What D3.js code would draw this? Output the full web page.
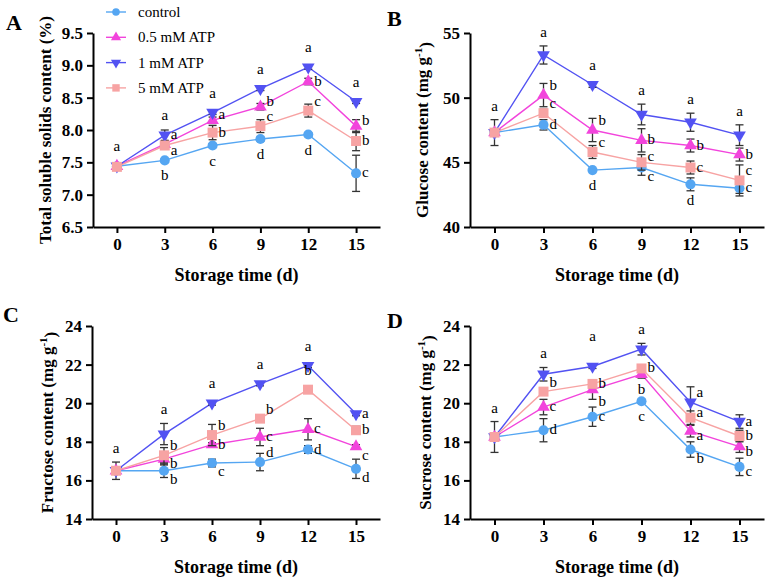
<!DOCTYPE html>
<html>
<head>
<meta charset="utf-8">
<script src="https://cdn.jsdelivr.net/npm/d3@7"></script>
<style>
  body { margin: 0; background: #fff; }
  svg text { font-family: "Liberation Serif", "Times New Roman", serif; }
</style>
</head>
<body>
<div id="chart"></div>
<script>
// storage days and treatments
var days = [0, 3, 6, 9, 12, 15];
var treatments = ["control", "0.5 mM ATP", "1 mM ATP", "5 mM ATP"];
var colors = ["#55a6f2", "#f244dc", "#5252f2", "#f7a3a3"];

// total soluble solids (%)  - order: control, 0.5, 1, 5 mM
var tssMeans = [
    [7.44, 7.53, 7.76, 7.86, 7.93, 7.33],
    [7.44, 7.78, 8.15, 8.36, 8.75, 8.06],
    [7.44, 7.92, 8.27, 8.64, 8.97, 8.44],
    [7.43, 7.76, 7.96, 8.06, 8.30, 7.83]
];
var tssErrors = [
    [0.02, 0.02, 0.03, 0.03, 0.03, 0.28],
    [0.02, 0.05, 0.05, 0.05, 0.05, 0.10],
    [0.02, 0.08, 0.03, 0.03, 0.03, 0.03],
    [0.02, 0.05, 0.11, 0.10, 0.10, 0.15]
];
var tssLetters = [
    ["a", "b", "c", "d", "d", "c"],
    ["", "a", "a", "b", "b", "b"],
    ["", "a", "a", "a", "a", "a"],
    ["", "a", "b", "c", "c", "b"]
];
var tssLetterPos = [
    ["u", "d", "d", "d", "d", "r"],
    ["", "ru", "rh", "rh", "r", "rh"],
    ["", "u", "u", "u", "u", "u"],
    ["", "rs", "r", "ru", "ru", "r"]
];

// glucose (mg g-1)
var gluMeans = [
    [47.3, 47.9, 44.4, 44.6, 43.3, 43.0],
    [47.3, 50.2, 47.5, 46.7, 46.3, 45.6],
    [47.3, 53.3, 51.0, 48.7, 48.1, 47.1],
    [47.3, 48.8, 45.8, 45.0, 44.6, 43.6]
];
var gluErrors = [
    [1.0, 0.4, 0.1, 0.6, 0.5, 0.4],
    [0.1, 0.9, 0.9, 0.9, 0.5, 0.5],
    [0.1, 0.7, 0.2, 0.8, 0.7, 0.8],
    [0.1, 0.3, 0.5, 0.6, 0.5, 1.2]
];
var gluLetters = [
    ["a", "d", "d", "c", "d", "c"],
    ["", "b", "b", "b", "b", "b"],
    ["", "a", "a", "a", "a", "a"],
    ["", "c", "c", "c", "c", "c"]
];
var gluLetterPos = [
    ["u", "r", "d", "rd", "d", "r"],
    ["", "ru", "ru", "r", "r", "r"],
    ["", "u", "u", "u", "u", "u"],
    ["", "ru", "ru", "rh", "r", "ru"]
];

// fructose (mg g-1)
var fruMeans = [
    [16.5, 16.5, 16.9, 16.95, 17.6, 16.6],
    [16.5, 17.1, 17.85, 18.25, 18.65, 17.75],
    [16.5, 18.4, 20.0, 21.0, 21.95, 19.45],
    [16.5, 17.3, 18.35, 19.2, 20.7, 18.6]
];
var fruErrors = [
    [0.45, 0.35, 0.2, 0.45, 0.2, 0.5],
    [0.1, 0.3, 0.1, 0.45, 0.55, 0.1],
    [0.1, 0.55, 0.1, 0.1, 0.1, 0.1],
    [0.1, 0.4, 0.55, 0.1, 0.1, 0.2]
];
var fruLetters = [
    ["a", "b", "c", "d", "d", "d"],
    ["", "b", "b", "c", "c", "c"],
    ["", "a", "a", "a", "a", "a"],
    ["", "b", "b", "b", "b", "b"]
];
var fruLetterPos = [
    ["u", "rd", "rd", "ru", "r", "rd"],
    ["", "rs", "r", "r", "r", "rd"],
    ["", "u", "u", "u", "u", "r"],
    ["", "ru", "ru", "ru", "u", "r"]
];

// sucrose (mg g-1)
var sucMeans = [
    [18.25, 18.6, 19.3, 20.1, 17.6, 16.7],
    [18.25, 19.8, 20.7, 21.5, 18.55, 17.75],
    [18.25, 21.5, 21.9, 22.8, 20.05, 19.05],
    [18.25, 20.6, 21.0, 21.8, 19.25, 18.3]
];
var sucErrors = [
    [0.8, 0.6, 0.5, 0.1, 0.4, 0.45],
    [0.1, 0.4, 0.5, 0.2, 0.3, 0.3],
    [0.1, 0.35, 0.1, 0.3, 0.8, 0.35],
    [0.1, 0.1, 0.2, 0.1, 0.35, 0.3]
];
var sucLetters = [
    ["a", "d", "c", "c", "b", "c"],
    ["", "c", "b", "b", "a", "b"],
    ["", "a", "a", "a", "a", "a"],
    ["", "b", "b", "b", "a", "b"]
];
var sucLetterPos = [
    ["u", "r", "r", "d", "rd", "rs"],
    ["", "r", "rdd", "d", "rs", "rs"],
    ["", "u", "uu", "u", "ru", "r"],
    ["", "ru", "r", "r", "rh", "r"]
];

var tssTicks = [6.5, 7.0, 7.5, 8.0, 8.5, 9.0, 9.5];
var gluTicks = [40, 45, 50, 55];
var sugarTicks = [14, 16, 18, 20, 22, 24];

var width = 767, height = 583;

var svg = d3.select("#chart")
    .append("svg")
    .attr("width", width)
    .attr("height", height);

var panels = [
    {label: "A", means: tssMeans, errs: tssErrors, letters: tssLetters, pos: tssLetterPos,
     ticks: tssTicks, fmt: d3.format(".1f"), title: "Total soluble solids content  (%)", sup: false,
     left: 93, right: 380, top: 33, bottom: 227, titleX: 45, labelX: 6, labelY: 30},
    {label: "B", means: gluMeans, errs: gluErrors, letters: gluLetters, pos: gluLetterPos,
     ticks: gluTicks, fmt: d3.format("d"), title: "Glucose content (mg g", sup: true,
     left: 470, right: 764, top: 33, bottom: 227, titleX: 422, labelX: 387, labelY: 26},
    {label: "C", means: fruMeans, errs: fruErrors, letters: fruLetters, pos: fruLetterPos,
     ticks: sugarTicks, fmt: d3.format("d"), title: "Fructose content (mg g", sup: true,
     left: 92, right: 380, top: 326, bottom: 519, titleX: 47, labelX: 3, labelY: 322},
    {label: "D", means: sucMeans, errs: sucErrors, letters: sucLetters, pos: sucLetterPos,
     ticks: sugarTicks, fmt: d3.format("d"), title: "Sucrose content (mg g", sup: true,
     left: 470, right: 764, top: 326, bottom: 519, titleX: 425, labelX: 387, labelY: 328}
];

var symbols = [
    d3.symbol().type(d3.symbolCircle).size(80),
    d3.symbol().type(d3.symbolTriangle).size(70),
    d3.symbol().type(d3.symbolTriangle).size(70),
    d3.symbol().type(d3.symbolSquare).size(100)
];
var symbolRot = [0, 0, 180, 0];

// baseline shift for letters placed to the right of a point
var rightShift = {r: 4, rh: -1, ru: -5, rs: 9, rd: 13, rdd: 16};

function drawPanel(p) {
    var x = d3.scaleLinear().domain([-1.5, 16.5]).range([p.left, p.right]);
    var y = d3.scaleLinear().domain([p.ticks[0], p.ticks[p.ticks.length - 1]]).range([p.bottom, p.top]);

    var g = svg.append("g");

    // axes
    var xAxis = g.append("g")
        .attr("transform", "translate(0," + p.bottom + ")")
        .call(d3.axisBottom(x).tickValues(days).tickSize(6).tickPadding(5).tickSizeOuter(0));
    var yAxis = g.append("g")
        .attr("transform", "translate(" + p.left + ",0)")
        .call(d3.axisLeft(y).tickValues(p.ticks).tickFormat(p.fmt).tickSize(6).tickPadding(4).tickSizeOuter(0));

    [xAxis, yAxis].forEach(function (a) {
        a.select(".domain").attr("stroke", "#000").attr("stroke-width", 2);
        a.selectAll(".tick line").attr("stroke", "#000").attr("stroke-width", 2);
        a.selectAll(".tick text")
            .attr("fill", "#000")
            .style("font-size", "17px")
            .style("font-weight", "bold")
            .style("font-family", "'Liberation Serif', serif");
    });

    // x title
    g.append("text")
        .attr("x", (p.left + p.right) / 2)
        .attr("y", p.bottom + 54)
        .attr("text-anchor", "middle")
        .style("font-size", "18px")
        .style("font-weight", "bold")
        .text("Storage time (d)");

    // y title
    var yt = g.append("text")
        .attr("transform", "translate(" + p.titleX + "," + ((p.top + p.bottom) / 2) + ") rotate(-90)")
        .attr("text-anchor", "middle")
        .attr("dy", "0.35em")
        .style("font-size", "17px")
        .style("font-weight", "bold");
    yt.append("tspan").text(p.title);
    if (p.sup) {
        yt.append("tspan").attr("dy", "-0.5em").style("font-size", "11px").text("-1");
        yt.append("tspan").attr("dy", "0.5em").text(")");
    }

    // panel letter
    g.append("text")
        .attr("x", p.labelX)
        .attr("y", p.labelY)
        .style("font-size", "22px")
        .style("font-weight", "bold")
        .text(p.label);

    var line = d3.line()
        .x(function (d, i) { return x(days[i]); })
        .y(function (d) { return y(d); });

    p.means.forEach(function (vals, s) {
        var sg = g.append("g");
        sg.append("path")
            .datum(vals)
            .attr("fill", "none")
            .attr("stroke", colors[s])
            .attr("stroke-width", 1.4)
            .attr("d", line);

        // error bars
        var eb = sg.selectAll(".err")
            .data(vals)
            .enter()
            .append("g");
        eb.append("line")
            .attr("x1", function (d, i) { return x(days[i]); })
            .attr("x2", function (d, i) { return x(days[i]); })
            .attr("y1", function (d, i) { return y(d - p.errs[s][i]); })
            .attr("y2", function (d, i) { return y(d + p.errs[s][i]); });
        eb.append("line")
            .attr("x1", function (d, i) { return x(days[i]) - 4; })
            .attr("x2", function (d, i) { return x(days[i]) + 4; })
            .attr("y1", function (d, i) { return y(d - p.errs[s][i]); })
            .attr("y2", function (d, i) { return y(d - p.errs[s][i]); });
        eb.append("line")
            .attr("x1", function (d, i) { return x(days[i]) - 4; })
            .attr("x2", function (d, i) { return x(days[i]) + 4; })
            .attr("y1", function (d, i) { return y(d + p.errs[s][i]); })
            .attr("y2", function (d, i) { return y(d + p.errs[s][i]); });
        eb.selectAll("line").attr("stroke", "#333").attr("stroke-width", 1.3);

        // markers
        sg.selectAll(".mk")
            .data(vals)
            .enter()
            .append("path")
            .attr("d", symbols[s])
            .attr("transform", function (d, i) {
                return "translate(" + x(days[i]) + "," + y(d) + ") rotate(" + symbolRot[s] + ")";
            })
            .attr("fill", colors[s]);
    });

    // significance letters
    p.means.forEach(function (vals, s) {
        vals.forEach(function (d, i) {
            var t = p.letters[s][i];
            if (!t) return;
            var pos = p.pos[s][i];
            var px = x(days[i]), py = y(d);
            var top = y(d + p.errs[s][i]), bot = y(d - p.errs[s][i]);
            var tx = px, ty = py, anchor = "middle";
            if (pos == "u") { ty = Math.min(top, py - 6) - 9; }
            else if (pos == "uu") { ty = py - 26; }
            else if (pos == "d") { ty = Math.max(bot, py + 6) + 14; }
            else {
                tx = px + 6; anchor = "start";
                ty = py + rightShift[pos];
            }
            g.append("text")
                .attr("x", tx)
                .attr("y", ty)
                .attr("text-anchor", anchor)
                .style("font-size", "15px")
                .text(t);
        });
    });
}

panels.forEach(drawPanel);

// legend
var legend = svg.append("g");
treatments.forEach(function (name, s) {
    var ly = 12 + s * 25.3;
    legend.append("line")
        .attr("x1", 106).attr("x2", 126)
        .attr("y1", ly).attr("y2", ly)
        .attr("stroke", colors[s])
        .attr("stroke-width", 1.4);
    legend.append("path")
        .attr("d", d3.symbol().type(s == 0 ? d3.symbolCircle : (s == 3 ? d3.symbolSquare : d3.symbolTriangle)).size(s == 3 ? 55 : 45))
        .attr("transform", "translate(116," + ly + ") rotate(" + symbolRot[s] + ")")
        .attr("fill", colors[s]);
    legend.append("text")
        .attr("x", 138)
        .attr("y", ly + 5)
        .style("font-size", "15px")
        .text(name);
});
</script>
</body>
</html>
